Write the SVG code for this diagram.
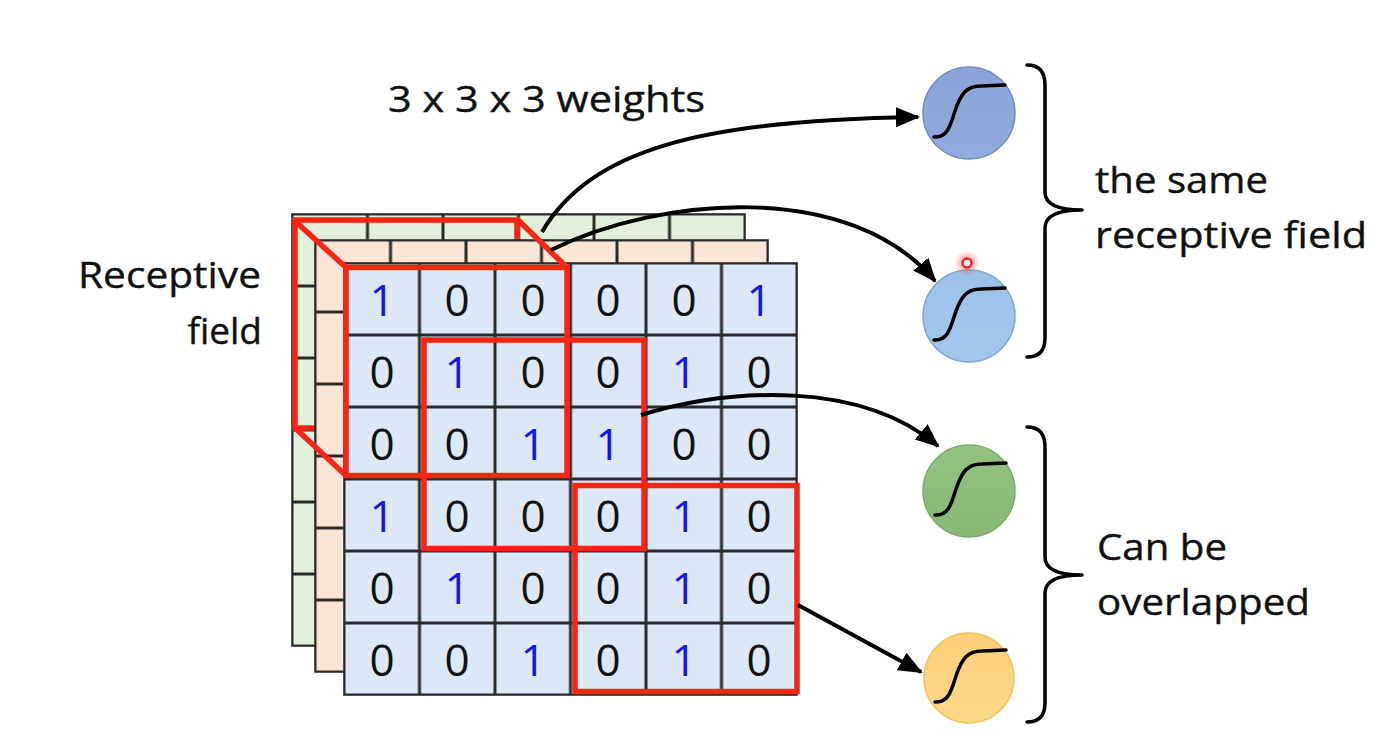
<svg xmlns="http://www.w3.org/2000/svg" width="1397" height="743" viewBox="0 0 1397 743">
<style>
.lbl{font-family:"Open Sans","Liberation Sans",sans-serif;font-size:37px;fill:#111;stroke:#111;stroke-width:0.4}
.d{font-family:"Open Sans","Liberation Sans",sans-serif;font-size:44px;text-anchor:middle}
.z{fill:#111}
.o{fill:#1515e8}
.red{fill:none;stroke:#FA2414;stroke-width:5.5;stroke-linejoin:miter}
.arr{fill:none;stroke:#000;stroke-width:4;marker-end:url(#ah)}
.sig{fill:none;stroke:#000;stroke-width:3.5;stroke-linecap:round}
.br{fill:none;stroke:#000;stroke-width:3.5;stroke-linecap:round;stroke-linejoin:round}
</style>
<defs>
<marker id="ah" markerUnits="userSpaceOnUse" markerWidth="26" markerHeight="22" refX="22" refY="10" orient="auto">
<path d="M0,0 L24,10 L0,20 Z" fill="#000"/>
</marker>
<pattern id="pf" x="344" y="263" width="75.5" height="72" patternUnits="userSpaceOnUse">
<rect width="75.5" height="72" fill="#DCE8F5" stroke="#2b2b2b" stroke-width="3"/>
</pattern>
<pattern id="po" x="315" y="240" width="75.5" height="72" patternUnits="userSpaceOnUse">
<rect width="75.5" height="72" fill="#FBE5D6" stroke="#2b2b2b" stroke-width="3"/>
</pattern>
<pattern id="pg" x="292" y="214" width="75.5" height="72" patternUnits="userSpaceOnUse">
<rect width="75.5" height="72" fill="#E2EFDA" stroke="#2b2b2b" stroke-width="3"/>
</pattern>
<radialGradient id="glow">
<stop offset="0" stop-color="#ff3030" stop-opacity="0.6"/>
<stop offset="1" stop-color="#ff3030" stop-opacity="0"/>
</radialGradient>
<linearGradient id="g1" x1="0" y1="0" x2="0" y2="1"><stop offset="0" stop-color="#8AA2D6"/><stop offset="1" stop-color="#93ABDB"/></linearGradient>
<linearGradient id="g2" x1="0" y1="0" x2="0" y2="1"><stop offset="0" stop-color="#9CC1E8"/><stop offset="1" stop-color="#A3C7EA"/></linearGradient>
<linearGradient id="g3" x1="0" y1="0" x2="0" y2="1"><stop offset="0" stop-color="#94C282"/><stop offset="1" stop-color="#88B874"/></linearGradient>
<linearGradient id="g4" x1="0" y1="0" x2="0" y2="1"><stop offset="0" stop-color="#FDD07A"/><stop offset="1" stop-color="#FDD889"/></linearGradient>
</defs>
<rect width="1397" height="743" fill="#fff"/>

<g id="layer-green">
<rect x="292" y="214" width="453" height="432" fill="url(#pg)" stroke="#2b2b2b" stroke-width="1.6"/>
<rect class="red" x="295" y="220" width="222" height="208"/>
</g>
<g id="layer-orange">
<rect x="315" y="240" width="453" height="432" fill="url(#po)" stroke="#2b2b2b" stroke-width="1.6"/>
</g>
<g id="layer-front">
<rect x="344" y="263" width="453" height="432" fill="url(#pf)" stroke="#2b2b2b" stroke-width="1.6"/>
<g class="d">
<text class="o" x="382" y="316">1</text><text class="z" x="457" y="316">0</text><text class="z" x="533" y="316">0</text><text class="z" x="608" y="316">0</text><text class="z" x="684" y="316">0</text><text class="o" x="759" y="316">1</text>
<text class="z" x="382" y="388">0</text><text class="o" x="457" y="388">1</text><text class="z" x="533" y="388">0</text><text class="z" x="608" y="388">0</text><text class="o" x="684" y="388">1</text><text class="z" x="759" y="388">0</text>
<text class="z" x="382" y="460">0</text><text class="z" x="457" y="460">0</text><text class="o" x="533" y="460">1</text><text class="o" x="608" y="460">1</text><text class="z" x="684" y="460">0</text><text class="z" x="759" y="460">0</text>
<text class="o" x="382" y="532">1</text><text class="z" x="457" y="532">0</text><text class="z" x="533" y="532">0</text><text class="z" x="608" y="532">0</text><text class="o" x="684" y="532">1</text><text class="z" x="759" y="532">0</text>
<text class="z" x="382" y="604">0</text><text class="o" x="457" y="604">1</text><text class="z" x="533" y="604">0</text><text class="z" x="608" y="604">0</text><text class="o" x="684" y="604">1</text><text class="z" x="759" y="604">0</text>
<text class="z" x="382" y="676">0</text><text class="z" x="457" y="676">0</text><text class="o" x="533" y="676">1</text><text class="z" x="608" y="676">0</text><text class="o" x="684" y="676">1</text><text class="z" x="759" y="676">0</text>
</g>
</g>
<g id="receptive-fields">
<rect class="red" x="346" y="267.5" width="221" height="208"/>
<path class="red" d="M295,221 L346,267.5 M517,219 L567,267.5 M295,428 L346,475.5"/>
<rect class="red" x="424" y="340" width="220" height="208.5"/>
<rect class="red" x="575" y="485.5" width="222" height="206"/>
</g>

<g id="connectors">
<path class="arr" d="M542,232 C590,150 700,120 918,117"/>
<path class="arr" d="M551,250 C660,196 850,180 935,281"/>
<path class="arr" d="M641,415 C730,388 860,380 938,446"/>
<path class="arr" d="M798,605 L921,672"/>
</g>

<g id="neuron1">
<circle cx="969" cy="113" r="46" fill="url(#g1)" stroke="#6E8DC6" stroke-width="1.5"/>
<path class="sig" d="M934,137 C947,138 950,127 955,111 C961,93 967,86 981,86 L1005,85"/>
</g>
<g id="neuron2">
<circle cx="969" cy="316" r="46" fill="url(#g2)" stroke="#7CA5D3" stroke-width="1.5"/>
<path class="sig" d="M934,340 C947,341 950,330 955,314 C961,296 967,289 981,289 L1005,288"/>
<circle cx="967" cy="263" r="13" fill="url(#glow)"/>
<circle cx="967" cy="263" r="4.5" fill="#fff" stroke="#F42020" stroke-width="2.5"/>
</g>
<g id="neuron3">
<circle cx="969" cy="491" r="46" fill="url(#g3)" stroke="#7BAA68" stroke-width="1.5"/>
<path class="sig" d="M935,515 C948,516 951,505 956,489 C962,471 968,464 982,464 L1006,463"/>
</g>
<g id="neuron4">
<circle cx="969" cy="678" r="45" fill="url(#g4)" stroke="#F2C25A" stroke-width="1.5"/>
<path class="sig" d="M935,702 C948,703 951,692 956,676 C962,658 968,651 982,651 L1006,650"/>
</g>

<g id="braces">
<path class="br" d="M1027,65 Q1045,65 1045,85 L1045,192 Q1045,210 1082,210 Q1045,210 1045,228 L1045,338 Q1045,357 1027,357"/>
<path class="br" d="M1027,427 Q1045,427 1045,447 L1045,557 Q1045,575 1082,575 Q1045,575 1045,593 L1045,703 Q1045,722 1027,722"/>
</g>

<g id="labels">
<text class="lbl" x="388" y="112" textLength="317" lengthAdjust="spacingAndGlyphs">3 x 3 x 3 weights</text>
<text class="lbl" x="78" y="288" textLength="183" lengthAdjust="spacingAndGlyphs">Receptive</text>
<text class="lbl" x="262" y="344" text-anchor="end">field</text>
<text class="lbl" x="1095" y="193" textLength="173" lengthAdjust="spacingAndGlyphs">the same</text>
<text class="lbl" x="1095" y="248" textLength="272" lengthAdjust="spacingAndGlyphs">receptive field</text>
<text class="lbl" x="1097" y="560" textLength="130" lengthAdjust="spacingAndGlyphs">Can be</text>
<text class="lbl" x="1097" y="615" textLength="213" lengthAdjust="spacingAndGlyphs">overlapped</text>
</g>
</svg>
